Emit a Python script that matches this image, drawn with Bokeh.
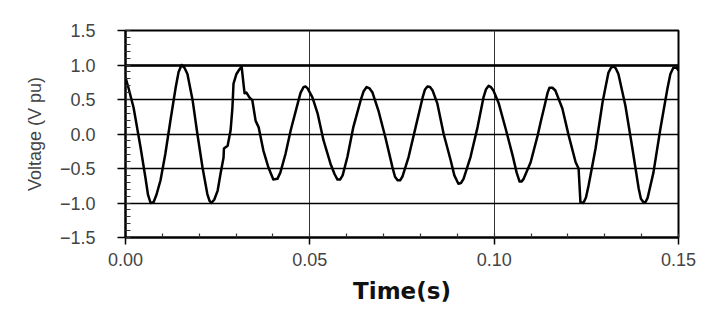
from bokeh.plotting import figure
from bokeh.embed import file_html
from bokeh.resources import INLINE
from bokeh.models import FixedTicker, CustomJSTickFormatter, Grid, Range1d

# ---- data ----
time_s = [0.0000, 0.0008, 0.0022, 0.0041, 0.0054, 0.0061, 0.0068, 0.0076, 0.0084, 0.0095,
          0.0108, 0.0122, 0.0136, 0.0144, 0.0152, 0.0160, 0.0168, 0.0182, 0.0195, 0.0209,
          0.0222, 0.0228, 0.0233, 0.0241, 0.0250, 0.0258, 0.0266, 0.0267, 0.0277, 0.0285,
          0.0290, 0.0293, 0.0301, 0.0307, 0.0315, 0.0320, 0.0323, 0.0328, 0.0336, 0.0344,
          0.0353, 0.0361, 0.0374, 0.0388, 0.0401, 0.0412, 0.0420, 0.0434, 0.0448, 0.0467,
          0.0475, 0.0483, 0.0488, 0.0494, 0.0507, 0.0521, 0.0537, 0.0556, 0.0567, 0.0575,
          0.0582, 0.0589, 0.0602, 0.0618, 0.0638, 0.0646, 0.0654, 0.0662, 0.0670, 0.0686,
          0.0705, 0.0724, 0.0731, 0.0738, 0.0745, 0.0751, 0.0768, 0.0787, 0.0806, 0.0812,
          0.0819, 0.0826, 0.0833, 0.0846, 0.0863, 0.0882, 0.0892, 0.0903, 0.0910, 0.0917,
          0.0936, 0.0955, 0.0971, 0.0978, 0.0985, 0.0991, 0.0998, 0.1012, 0.1031, 0.1050,
          0.1061, 0.1069, 0.1074, 0.1080, 0.1099, 0.1118, 0.1126, 0.1139, 0.1145, 0.1150,
          0.1158, 0.1166, 0.1185, 0.1202, 0.1221, 0.1229, 0.1234, 0.1242, 0.1249, 0.1256,
          0.1275, 0.1294, 0.1310, 0.1317, 0.1324, 0.1330, 0.1337, 0.1356, 0.1375, 0.1392,
          0.1398, 0.1405, 0.1410, 0.1416, 0.1432, 0.1451, 0.1470, 0.1478, 0.1486, 0.1495,
          0.1500]
voltage_pu = [0.82, 0.67, 0.38, -0.20, -0.63, -0.88, -1.00, -0.99, -0.88, -0.67,
              -0.29, 0.20, 0.67, 0.90, 1.00, 0.96, 0.87, 0.49, 0.00, -0.49,
              -0.87, -0.97, -1.00, -0.95, -0.82, -0.57, -0.34, -0.21, -0.17, 0.05,
              0.38, 0.73, 0.87, 0.92, 0.98, 0.73, 0.59, 0.60, 0.53, 0.49,
              0.19, 0.10, -0.24, -0.49, -0.66, -0.65, -0.56, -0.29, 0.05, 0.44,
              0.60, 0.68, 0.69, 0.66, 0.53, 0.30, -0.09, -0.43, -0.58, -0.66,
              -0.66, -0.60, -0.33, 0.10, 0.49, 0.62, 0.68, 0.66, 0.60, 0.34,
              -0.05, -0.48, -0.62, -0.67, -0.67, -0.62, -0.33, 0.10, 0.53, 0.64,
              0.69, 0.68, 0.63, 0.44, 0.00, -0.38, -0.60, -0.72, -0.71, -0.65,
              -0.33, 0.10, 0.53, 0.65, 0.70, 0.68, 0.63, 0.45, 0.08, -0.31,
              -0.56, -0.69, -0.69, -0.65, -0.41, -0.02, 0.17, 0.46, 0.60, 0.67,
              0.67, 0.63, 0.37, -0.02, -0.41, -0.50, -0.99, -1.00, -0.92, -0.75,
              -0.21, 0.46, 0.89, 0.96, 0.98, 0.95, 0.87, 0.41, -0.21, -0.79,
              -0.94, -0.99, -0.99, -0.93, -0.56, 0.08, 0.66, 0.87, 0.96, 0.96,
              0.92]

x_ticks = [0.0, 0.05, 0.10, 0.15]
x_minor_ticks = [i / 100 for i in range(16)]
y_ticks = [-1.5, -1.0, -0.5, 0.0, 0.5, 1.0, 1.5]
y_minor_ticks = [(i - 15) / 10 for i in range(31)]
y_bold_line = [1.0]

p = figure(width=707, height=312, output_backend="svg", toolbar_location=None,
           x_range=Range1d(0, 0.15), y_range=Range1d(-1.5, 1.5),
           min_border_left=125, min_border_right=29, min_border_top=30, min_border_bottom=75,
           background_fill_color="white", border_fill_color="white")

p.outline_line_color = "black"
p.outline_line_width = 2

# grids
p.xgrid.ticker = FixedTicker(ticks=x_ticks)
p.xgrid.grid_line_color = "#333333"
p.xgrid.grid_line_width = 1
p.ygrid.ticker = FixedTicker(ticks=y_ticks)
p.ygrid.grid_line_color = "black"
p.ygrid.grid_line_width = 1.3
p.add_layout(Grid(dimension=1, ticker=FixedTicker(ticks=y_bold_line),
                  grid_line_color="black", grid_line_width=2.5))

# x axis
xa = p.xaxis[0]
xa.ticker = FixedTicker(ticks=x_ticks, minor_ticks=x_minor_ticks)
xa.formatter = CustomJSTickFormatter(code="return tick.toFixed(2);")
xa.axis_label = "Time(s)"
xa.axis_label_text_font = "DejaVu Sans"
xa.axis_label_text_font_style = "bold"
xa.axis_label_text_font_size = "23px"
xa.axis_label_text_color = "#111111"
xa.axis_label_standoff = 9
xa.major_label_text_font = "Liberation Sans"
xa.major_label_text_font_size = "18px"
xa.major_label_text_color = "#444444"
xa.major_label_standoff = 8
xa.axis_line_color = "black"
xa.axis_line_width = 2
xa.major_tick_in = 0
xa.major_tick_out = 7
xa.major_tick_line_color = "black"
xa.major_tick_line_width = 1.5
xa.minor_tick_in = 4
xa.minor_tick_out = 0
xa.minor_tick_line_color = "#333333"
xa.minor_tick_line_width = 1.2

# y axis
ya = p.yaxis[0]
ya.ticker = FixedTicker(ticks=y_ticks, minor_ticks=y_minor_ticks)
ya.formatter = CustomJSTickFormatter(code="return tick.toFixed(1).replace('-', '\u2212');")
ya.axis_label = "Voltage (V pu)"
ya.axis_label_text_font = "Liberation Sans"
ya.axis_label_text_font_style = "normal"
ya.axis_label_text_font_size = "18px"
ya.axis_label_text_color = "#444444"
ya.axis_label_standoff = 12
ya.major_label_text_font = "Liberation Sans"
ya.major_label_text_font_size = "18px"
ya.major_label_text_color = "#444444"
ya.major_label_standoff = 22
ya.axis_line_color = "black"
ya.axis_line_width = 2
ya.major_tick_in = 0
ya.major_tick_out = 8
ya.major_tick_line_color = "black"
ya.major_tick_line_width = 1.5
ya.minor_tick_in = 5
ya.minor_tick_out = 0
ya.minor_tick_line_color = "#333333"
ya.minor_tick_line_width = 1.2

p.line(time_s, voltage_pu, line_color="black", line_width=2.5, line_join="round")

open("out.html", "w").write(file_html(p, INLINE))
